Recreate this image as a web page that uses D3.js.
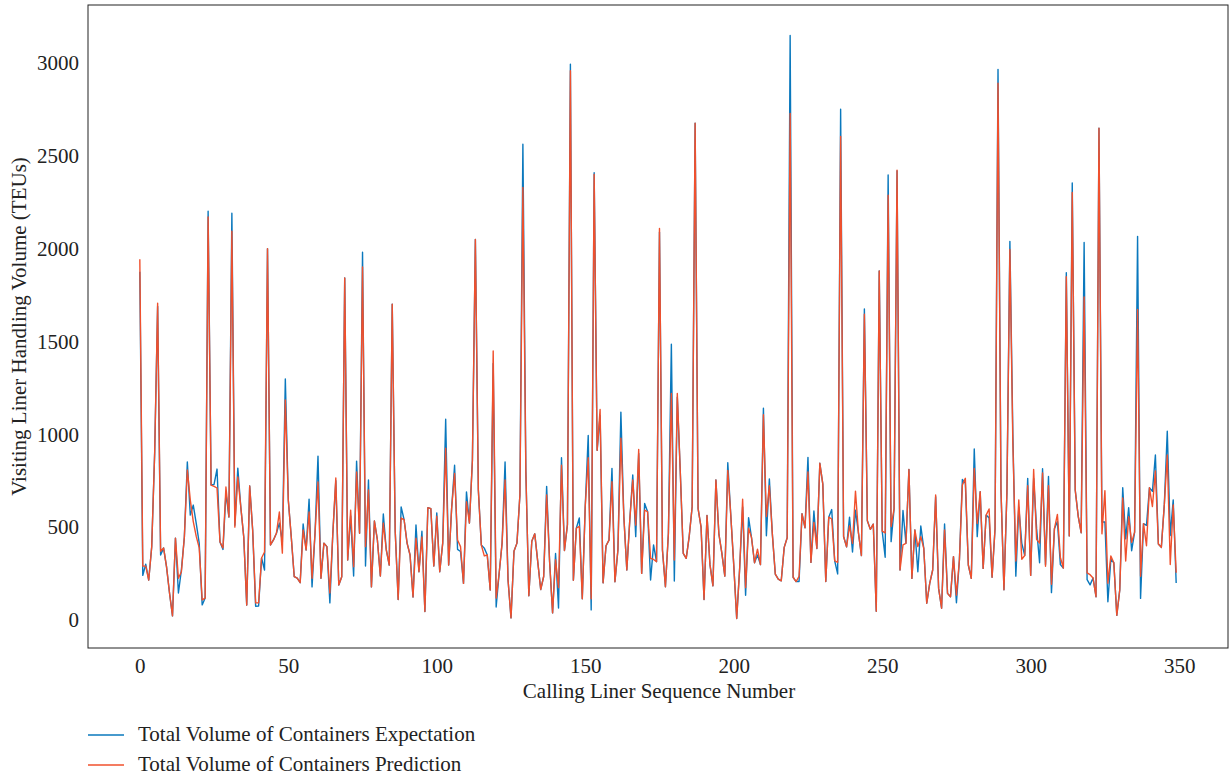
<!DOCTYPE html>
<html>
<head>
<meta charset="utf-8">
<script src="https://cdn.jsdelivr.net/npm/d3@7"></script>
<style>
  body { margin: 0; background: #fff; }
  text { font-family: "Liberation Serif", "DejaVu Serif", serif; fill: #222; }
</style>
</head>
<body>
<div id="chart"></div>
<script>
// values, one per calling liner (0..349)
var expectation = [
  1876,240,300,215,393,899,1690,350,388,286, 145,22,441,145,270,447,851,565,619,520,
  414,81,118,2202,727,730,813,420,380,684, 555,2192,510,818,609,447,80,722,485,74,
  75,334,269,2000,404,431,467,522,420,1298, 646,447,233,225,201,517,377,651,178,467,
  883,225,414,395,92,467,750,188,233,1843, 323,560,237,856,467,1982,291,754,178,533,
  431,237,571,377,296,1702,480,110,609,540, 414,350,124,512,260,478,45,605,600,291,
  577,260,414,1082,296,600,834,380,369,197, 690,522,861,2050,700,404,387,350,161,1382,
  70,250,414,851,215,11,370,414,674,2564, 800,130,424,464,314,164,234,720,314,38,
  358,64,874,374,514,2995,214,494,550,114, 614,994,54,2410,914,1100,200,400,430,817,
  206,377,1120,556,269,538,781,449,897,251, 628,583,215,404,314,2090,377,179,466,1486,
  210,1200,800,359,332,449,610,2677,600,500, 110,563,298,184,754,464,360,236,847,567,
  298,8,278,609,133,551,443,308,350,298, 1141,454,760,464,247,220,211,391,443,3150,
  230,207,207,572,497,876,310,587,385,844, 732,207,554,595,319,248,2752,450,394,554,
  366,591,469,347,1676,535,488,516,47,1880, 479,338,2398,422,600,2420,269,590,413,811,
  224,485,260,506,386,90,197,269,664,170, 63,517,143,125,341,93,323,757,736,296,
  224,921,449,691,278,565,550,230,492,2967, 700,163,686,2040,1000,236,608,414,347,763,
  240,763,492,308,815,298,773,147,492,531, 298,280,1871,453,2355,700,560,470,2034,217,
  189,226,125,2650,528,528,98,327,308,25, 162,712,437,605,373,473,2067,116,519,510,
  712,693,889,409,391,620,1017,455,647,199
];
var prediction = [
  1944,290,290,215,393,899,1707,370,388,286, 145,22,441,225,260,447,808,646,530,450,
  388,108,118,2171,727,720,711,420,388,716, 555,2095,500,770,609,447,80,722,485,92,
  92,334,366,2000,404,431,467,582,360,1185, 646,447,233,225,201,485,377,582,225,467,
  743,225,414,395,145,467,765,188,233,1843, 323,592,287,797,467,1902,395,700,178,533,
  431,237,522,377,296,1702,480,110,549,540, 414,350,124,441,260,447,45,605,600,291,
  559,260,414,925,296,600,790,431,395,197, 637,522,861,2050,700,404,345,350,161,1449,
  118,250,414,754,215,11,370,414,674,2330, 800,130,424,464,314,164,234,674,314,38,
  324,174,834,374,514,2960,214,494,504,114, 614,874,114,2400,914,1134,200,400,430,745,
  206,377,980,556,269,538,754,511,919,251, 592,583,332,326,314,2110,377,179,466,1220,
  323,1220,800,359,332,449,610,2677,600,500, 110,563,298,184,754,464,360,236,806,567,
  298,8,278,650,174,495,443,308,381,298, 1106,557,723,464,247,220,211,391,443,2730,
  230,207,235,572,497,798,310,525,385,844, 732,207,554,544,319,310,2606,450,394,507,
  413,694,469,347,1647,535,488,516,47,1880, 479,469,2289,503,600,2424,269,404,413,811,
  224,485,395,449,386,90,197,269,673,170, 63,485,143,125,341,134,323,727,763,296,
  224,817,520,691,278,565,598,230,492,2892, 700,163,686,1996,950,318,647,327,347,724,
  240,811,434,414,792,289,724,192,492,569, 337,280,1850,453,2303,700,560,470,1741,254,
  244,226,125,2650,464,697,198,345,308,25, 162,657,318,556,418,473,1673,235,519,400,
  712,611,803,409,391,620,889,299,620,254
];
var seqNumbers = d3.range(expectation.length);
var xTicks = [0, 50, 100, 150, 200, 250, 300, 350];
var yTicks = [0, 500, 1000, 1500, 2000, 2500, 3000];
var seriesNames = ["Total Volume of Containers Expectation", "Total Volume of Containers Prediction"];
var seriesColors = ["#0a78bd", "#f0502d"];

const W = 1230, H = 778;
const plot = {left: 88, right: 1228, top: 5, bottom: 648};
const fontSize = "21px";

const svg = d3.select("#chart").append("svg")
  .attr("width", W).attr("height", H);

// matplotlib style 5% margins around the data
const n = seqNumbers.length - 1;
const x = d3.scaleLinear()
  .domain([-0.05 * n, n * 1.05])
  .range([plot.left, plot.right]);
const yMax = d3.max(expectation.concat(prediction));
const y = d3.scaleLinear()
  .domain([-0.048 * yMax, yMax * 1.052])
  .range([plot.bottom, plot.top]);

// axes, labels only
const xAxis = svg.append("g")
  .attr("transform", `translate(0,${plot.bottom})`)
  .call(d3.axisBottom(x).tickValues(xTicks).tickFormat(d3.format("d")).tickSize(0).tickPadding(10));
const yAxis = svg.append("g")
  .attr("transform", `translate(${plot.left},0)`)
  .call(d3.axisLeft(y).tickValues(yTicks).tickFormat(d3.format("d")).tickSize(0).tickPadding(9));
[xAxis, yAxis].forEach(a => {
  a.select(".domain").remove();
  a.selectAll("text").style("font-size", fontSize)
    .style("font-family", "'Liberation Serif', serif").attr("fill", "#222");
});

// lines
const line = d3.line()
  .x((d, i) => x(seqNumbers[i]))
  .y(d => y(d));
[expectation, prediction].forEach((s, k) => {
  svg.append("path")
    .datum(s)
    .attr("fill", "none")
    .attr("stroke", seriesColors[k])
    .attr("stroke-width", 1.4)
    .attr("stroke-linejoin", "round")
    .attr("d", line);
});

// frame
svg.append("rect")
  .attr("x", plot.left).attr("y", plot.top)
  .attr("width", plot.right - plot.left).attr("height", plot.bottom - plot.top)
  .attr("fill", "none").attr("stroke", "#222").attr("stroke-width", 1);

// titles
svg.append("text")
  .attr("x", 659).attr("y", 698)
  .attr("text-anchor", "middle").style("font-size", fontSize)
  .text("Calling Liner Sequence Number");
svg.append("text")
  .attr("transform", `translate(26,${(plot.top + plot.bottom) / 2}) rotate(-90)`)
  .attr("text-anchor", "middle").style("font-size", fontSize)
  .text("Visiting Liner Handling Volume (TEUs)");

// legend
const legend = svg.append("g");
seriesNames.forEach((name, k) => {
  const ly = 735 + k * 30;
  legend.append("line")
    .attr("x1", 88).attr("x2", 124).attr("y1", ly).attr("y2", ly)
    .attr("stroke", seriesColors[k]).attr("stroke-width", 1.4);
  legend.append("text")
    .attr("x", 138).attr("y", ly + 6)
    .style("font-size", fontSize)
    .text(name);
});
</script>
</body>
</html>
